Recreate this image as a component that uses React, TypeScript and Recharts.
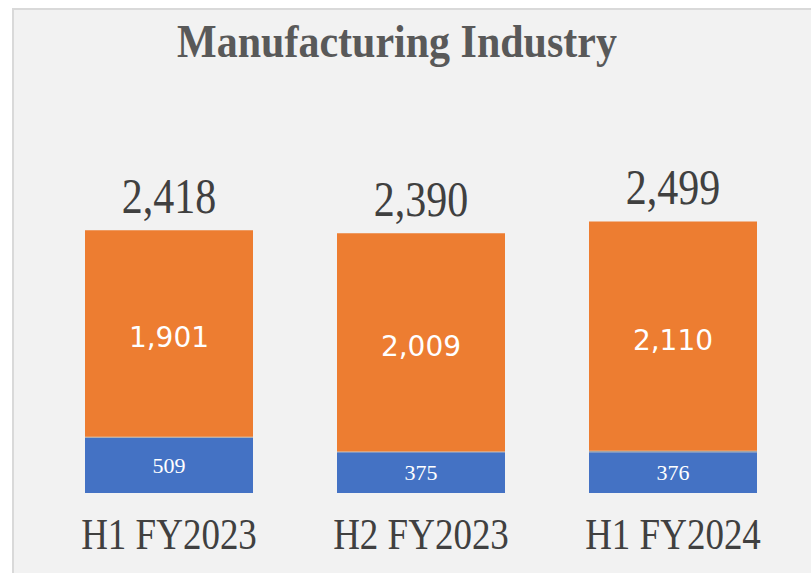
import { BarChart, Bar, XAxis, YAxis, LabelList } from 'recharts';

const periods = ['H1 FY2023', 'H2 FY2023', 'H1 FY2024'];
const blueValues = [509, 375, 376];
const grayValues = [8, 6, 13];
const orangeValues = [1901, 2009, 2110];
const totals = [2418, 2390, 2499];

const data = periods.map((p, i) => ({
    period: p,
    blue: blueValues[i],
    gray: grayValues[i],
    orange: orangeValues[i],
    total: totals[i],
}));

const fmt = (v: number) => v.toLocaleString('en-US');
const serif = "'Liberation Serif', 'Times New Roman', serif";

// the serif texts in the reference look stretched upwards a bit
const TallText = ({ x, y, size, children }: any) => (
    <text
        transform={`translate(${x}, ${y}) scale(1, 1.2)`}
        textAnchor="middle"
        dominantBaseline="central"
        fontFamily={serif}
        fontSize={size}
        fill="#404040"
    >
        {children}
    </text>
);

const PeriodTick = (props: any) => {
    const { x, y, payload } = props;
    return (
        <TallText x={x} y={y + 33} size={37}>
            {payload.value}
        </TallText>
    );
};

const TotalLabel = (props: any) => {
    const { x, y, width, index } = props;
    return (
        <TallText x={x + width / 2} y={y - 34} size={42}>
            {fmt(totals[index])}
        </TallText>
    );
};

const OrangeLabel = (props: any) => {
    const { x, y, width, height, value } = props;
    return (
        <text
            x={x + width / 2}
            y={y + height / 2 + 4}
            textAnchor="middle"
            dominantBaseline="central"
            fontFamily="'DejaVu Sans', sans-serif"
            fontSize={28}
            fill="#ffffff"
        >
            {fmt(Number(value))}
        </text>
    );
};

const App = () => {
    return (
        <div>
            <div
                style={{
                    position: 'absolute',
                    left: 12,
                    top: 8,
                    width: 799,
                    height: 565,
                    boxSizing: 'border-box',
                    background: '#f2f2f2',
                    borderLeft: '2px solid #d9d9d9',
                    borderTop: '2px solid #d9d9d9',
                }}
            />
            <div
                style={{
                    position: 'absolute',
                    left: 0,
                    top: 17,
                    width: 794,
                    textAlign: 'center',
                    fontFamily: serif,
                    fontWeight: 'bold',
                    fontSize: 42,
                    color: '#595959',
                    lineHeight: '48px',
                    transform: 'scaleY(1.12)',
                }}
            >
                Manufacturing Industry
            </div>
            <div style={{ position: 'absolute', left: 0, top: 0 }}>
                <BarChart
                    width={811}
                    height={573}
                    data={data}
                    margin={{ top: 167, right: 12, bottom: 0, left: 43 }}
                >
                    <XAxis
                        dataKey="period"
                        height={80}
                        axisLine={false}
                        tickLine={false}
                        tick={<PeriodTick />}
                        interval={0}
                    />
                    <YAxis hide domain={[0, 3000]} />
                    <Bar dataKey="blue" stackId="a" fill="#4472c4" barSize={168} isAnimationActive={false}>
                        <LabelList
                            dataKey="blue"
                            position="center"
                            fill="#ffffff"
                            fontFamily={serif}
                            fontSize={22}
                            formatter={(v: any) => fmt(Number(v))}
                        />
                    </Bar>
                    <Bar dataKey="gray" stackId="a" fill="#a5a5a5" barSize={168} isAnimationActive={false} />
                    <Bar dataKey="orange" stackId="a" fill="#ed7d31" barSize={168} isAnimationActive={false}>
                        <LabelList dataKey="orange" content={<OrangeLabel />} />
                        <LabelList dataKey="total" content={<TotalLabel />} />
                    </Bar>
                </BarChart>
            </div>
        </div>
    );
};

export default App;
